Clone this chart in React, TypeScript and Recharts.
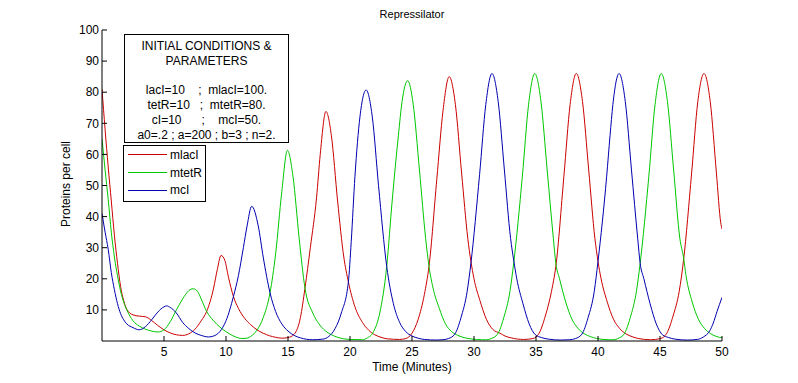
import React from 'react';
import { LineChart, Line, XAxis, YAxis, Legend } from 'recharts';

// time (min) / proteins per cell
const mlacI: [number, number][] = [
  [0, 81], [0.25, 68], [0.5, 56], [0.75, 45], [1.0, 34], [1.25, 25], [1.5, 17.5], [1.75, 13], [2.0, 10.2],
  [2.5, 8.4], [3.0, 8.0], [3.5, 7.8], [4.0, 6.6], [4.5, 5.0], [5.0, 3.6], [5.5, 2.6], [6.0, 2.0], [6.5, 1.8],
  [7.0, 2.3], [7.5, 3.8], [8.0, 6.5], [8.44, 9.5], [9.0, 17], [9.3, 23], [9.6, 27.5], [9.9, 26], [10.2, 20.5],
  [10.6, 14.3], [11.0, 10.5], [11.5, 7.3], [12.0, 5.2], [12.5, 3.6], [13.0, 2.5], [13.5, 1.7], [14.0, 1.2],
  [14.5, 0.9], [15.0, 1.1], [15.5, 2.2], [16.0, 7.5], [16.37, 17], [16.8, 30], [17.3, 46], [17.6, 60],
  [18.06, 73.8], [18.5, 66], [19.0, 45], [19.5, 27], [19.87, 19], [20.4, 11], [21.0, 6], [21.5, 3.5], [22.0, 2],
  [22.5, 1.2], [23.0, 0.7], [24.0, 0.5], [24.5, 0.8], [25.0, 2.5], [25.5, 7], [26.0, 15], [26.37, 24], [27.0, 52],
  [27.5, 74], [28.0, 85], [28.5, 76], [29.0, 54], [29.5, 33], [30.0, 20], [30.48, 13], [31.0, 7], [31.5, 3.8],
  [32.1, 2.5], [32.5, 1.6], [33.0, 1], [34.0, 0.5], [34.75, 0.8], [35.25, 2.5], [35.75, 8], [36.25, 16],
  [36.6, 24], [37.25, 53], [37.75, 76], [38.25, 86], [38.75, 77], [39.25, 55], [39.75, 33], [40.0, 25.6],
  [40.25, 20], [40.75, 12.5], [41.25, 7], [41.75, 4], [42.25, 2.3], [42.75, 1.4], [43.25, 0.8], [44.25, 0.4],
  [45.05, 0.8], [45.55, 2.5], [46.05, 8], [46.55, 16], [46.9, 26], [47.55, 54], [48.05, 77], [48.55, 86],
  [49.05, 77], [49.55, 54], [49.9, 38], [50, 36],
];

const mtetR: [number, number][] = [
  [0, 65], [0.25, 55], [0.5, 45.5], [0.75, 35], [1.0, 27], [1.25, 21], [1.5, 16], [1.75, 12.5], [2.0, 10],
  [2.5, 6.5], [3.0, 4.8], [3.5, 3.8], [4.0, 3.2], [4.5, 2.9], [5.0, 3.6], [5.5, 6.2], [6.0, 10], [6.5, 13.5],
  [7.0, 16.2], [7.35, 16.8], [7.7, 16], [8.0, 13.5], [8.44, 9.5], [9.0, 6.5], [9.5, 4.5], [10.0, 3], [10.5, 1.8],
  [11.0, 1], [11.3, 0.8], [11.7, 0.9], [12.0, 1.5], [12.5, 3.5], [13.0, 7.5], [13.55, 15.5], [14.0, 28],
  [14.5, 48], [14.95, 61.3], [15.4, 53], [15.9, 33], [16.37, 17], [17.0, 9], [17.5, 5.5], [18.0, 3.3],
  [18.5, 2], [19.0, 1.2], [20.0, 0.5], [21.0, 0.4], [21.4, 1], [21.9, 3], [22.4, 9], [22.96, 24], [23.4, 45],
  [23.9, 66], [24.2, 77], [24.65, 83.7], [25.1, 76], [25.6, 55], [26.1, 33], [26.37, 24], [26.7, 17],
  [27.2, 10.5], [27.7, 5.5], [28.2, 3], [28.7, 1.8], [29.2, 1.1], [29.7, 0.7], [30.7, 0.4], [31.0, 0.4],
  [31.4, 0.8], [31.9, 2.2], [32.4, 7.5], [32.9, 16], [33.2, 25], [33.9, 53], [34.4, 76], [34.9, 86], [35.4, 77],
  [35.9, 55], [36.4, 33], [36.6, 25], [36.9, 20], [37.4, 12.5], [37.9, 7], [38.4, 4], [38.9, 2.3], [39.4, 1.4],
  [39.9, 0.8], [40.9, 0.4], [41.3, 0.4], [41.6, 0.8], [42.1, 2.2], [42.6, 7.5], [43.1, 16], [43.4, 25],
  [44.1, 53], [44.6, 76], [45.1, 86], [45.6, 77], [46.1, 55], [46.6, 33], [46.9, 26.8], [47.1, 21],
  [47.6, 12.5], [48.1, 7], [48.6, 4], [49.1, 2.3], [49.6, 1.4], [50, 1.0],
];

const mcI: [number, number][] = [
  [0, 41], [0.25, 35], [0.5, 29.5], [0.75, 22], [1.0, 16.5], [1.25, 12], [1.5, 8.8], [1.75, 6.8], [2.0, 5.5],
  [2.5, 4.3], [3.0, 3.6], [3.5, 4.6], [4.0, 6.8], [4.5, 9.3], [5.0, 11], [5.2, 11.3], [5.5, 10.8], [6.0, 9],
  [6.5, 6], [7.0, 4], [7.5, 2.6], [8.0, 1.8], [8.6, 1.3], [9.0, 1.6], [9.5, 3], [10.0, 6.5], [10.6, 14.3],
  [11.0, 21], [11.4, 30], [11.7, 37], [12.07, 43.3], [12.6, 37], [13.0, 27], [13.55, 15.5], [14.0, 9.5],
  [14.5, 5.5], [15.0, 3.2], [15.5, 1.8], [16.0, 1.0], [17.0, 0.4], [17.8, 0.6], [18.3, 1.5], [18.8, 4],
  [19.3, 9], [19.87, 19], [20.1, 32], [20.4, 53], [20.8, 72], [21.3, 80.7], [21.8, 72], [22.3, 50],
  [22.96, 24], [23.5, 12], [24.0, 6], [24.5, 3], [25.0, 1.6], [25.5, 0.9], [26.0, 0.5], [27.0, 0.3],
  [27.5, 0.4], [27.95, 0.8], [28.45, 2.2], [28.95, 7.5], [29.45, 16], [29.75, 25], [30.45, 53.5], [30.95, 76],
  [31.45, 86], [31.95, 77], [32.45, 55], [32.95, 33], [33.2, 26], [33.45, 20], [33.95, 12], [34.45, 5.5],
  [34.95, 2], [35.45, 1.1], [36.0, 0.6], [37.0, 0.3], [37.7, 0.4], [38.2, 0.8], [38.7, 2.2], [39.2, 7.5],
  [39.7, 16], [40.0, 25.6], [40.7, 53], [40.97, 66], [41.2, 76], [41.7, 86], [42.2, 77], [42.7, 55],
  [43.2, 33], [43.4, 25], [43.7, 20], [44.2, 12], [44.7, 5.5], [45.2, 2], [45.7, 1.1], [46.2, 0.6],
  [47.2, 0.3], [48.0, 0.5], [48.5, 1.3], [49.0, 3.2], [49.3, 5.8], [49.6, 9.5], [50, 14],
];

const xTicks = [5, 10, 15, 20, 25, 30, 35, 40, 45, 50];
const yTicks = [10, 20, 30, 40, 50, 60, 70, 80, 90, 100];

const noteLines = [
  'INITIAL CONDITIONS &',
  'PARAMETERS',
  ' ',
  'lacI=10    ;  mlacI=100.',
  'tetR=10   ;  mtetR=80.',
  'cI=10      ;    mcI=50.',
  'a0=.2 ; a=200 ; b=3 ; n=2.',
];

const series = [
  { name: 'mlacI', pts: mlacI, color: '#cc0000' },
  { name: 'mtetR', pts: mtetR, color: '#00c800' },
  { name: 'mcI', pts: mcI, color: '#0000b0' },
];

const FONT = '"Liberation Sans", Arial, Helvetica, sans-serif';
const tickStyle = { fill: '#000', fontSize: 12, fontFamily: FONT };

// keep the plotting order (recharts sorts the payload by name)
const renderLegend = () => (
  <div
    style={{
      width: 81,
      height: 55,
      border: '1px solid #000',
      background: '#fff',
      fontFamily: FONT,
      fontSize: 12,
      boxSizing: 'content-box',
    }}
  >
    {series.map((s) => (
      <div key={s.name} style={{ display: 'flex', alignItems: 'center', height: 17.8 }}>
        <div style={{ width: 39, height: 1, background: s.color, marginLeft: 4, marginRight: 3 }} />
        <span style={{ color: '#000' }}>{s.name}</span>
      </div>
    ))}
  </div>
);

export default function App() {
  return (
    <div style={{ position: 'absolute', left: 0, top: 0, width: 798, height: 383, background: '#fff' }}>
      <LineChart width={798} height={383} margin={{ top: 30, right: 76, bottom: 0, left: 42 }}>
        <XAxis
          type="number"
          dataKey="t"
          domain={[0, 50]}
          allowDataOverflow
          ticks={xTicks}
          interval={0}
          height={42}
          tickSize={-5}
          tickMargin={11}
          stroke="#000"
          tick={tickStyle}
        />
        <XAxis
          xAxisId="top"
          orientation="top"
          type="number"
          dataKey="t"
          domain={[0, 50]}
          allowDataOverflow
          ticks={xTicks}
          interval={0}
          height={0}
          tickSize={-5}
          tick={false}
          stroke="#000"
        />
        <YAxis
          type="number"
          domain={[0, 100]}
          allowDataOverflow
          ticks={yTicks}
          interval={0}
          width={60}
          tickSize={-5}
          tickMargin={8}
          stroke="#000"
          tick={tickStyle}
        />
        <YAxis
          yAxisId="right"
          orientation="right"
          type="number"
          domain={[0, 100]}
          allowDataOverflow
          ticks={yTicks}
          interval={0}
          width={0}
          tickSize={-5}
          tick={false}
          stroke="#000"
        />
        {series.map((s) => (
          <Line
            key={s.name}
            name={s.name}
            data={s.pts.map(([t, v]) => ({ t, v }))}
            dataKey="v"
            type="monotone"
            stroke={s.color}
            strokeWidth={1}
            dot={false}
            activeDot={false}
            isAnimationActive={false}
          />
        ))}
        <Legend
          layout="horizontal"
          verticalAlign="middle"
          align="center"
          content={renderLegend}
          wrapperStyle={{ left: 123, top: 145, right: 'auto', bottom: 'auto', width: 83, height: 57 }}
        />
      </LineChart>

      <div
        style={{
          position: 'absolute',
          left: 0,
          width: 824,
          top: 8,
          textAlign: 'center',
          fontFamily: FONT,
          fontSize: 11,
        }}
      >
        Repressilator
      </div>
      <div
        style={{
          position: 'absolute',
          left: 0,
          width: 824,
          top: 360,
          textAlign: 'center',
          fontFamily: FONT,
          fontSize: 12,
        }}
      >
        Time (Minutes)
      </div>
      <div
        style={{
          position: 'absolute',
          left: 66,
          top: 184,
          transform: 'translate(-50%, -50%) rotate(-90deg)',
          whiteSpace: 'nowrap',
          fontFamily: FONT,
          fontSize: 12,
        }}
      >
        Proteins per cell
      </div>

      <div
        style={{
          position: 'absolute',
          left: 124,
          top: 34,
          width: 165,
          height: 109,
          border: '1px solid #000',
          background: '#fff',
          fontFamily: FONT,
          fontSize: 12,
          textAlign: 'center',
          paddingTop: 4,
          boxSizing: 'border-box',
        }}
      >
        {noteLines.map((l, i) => (
          <div key={i} style={{ whiteSpace: 'pre', height: 14.8, lineHeight: '14.8px' }}>
            {l}
          </div>
        ))}
      </div>
    </div>
  );
}
